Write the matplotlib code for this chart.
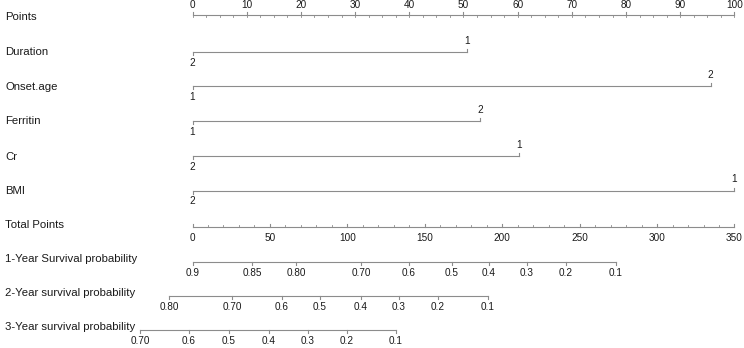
import numpy as np
import matplotlib
matplotlib.use("Agg")
import matplotlib.pyplot as plt

plt.rcParams['font.family'] = ['Liberation Sans', 'DejaVu Sans']

# variable rows: name, label at 0 points, label at max, max points
var_names = ["Duration", "Onset.age", "Ferritin", "Cr", "BMI"]
var_left_labels = ["2", "1", "1", "2", "2"]
var_right_labels = ["1", "2", "2", "1", "1"]
var_max_points = [50.6, 95.6, 53.0, 60.2, 100.0]

points_major = np.arange(0, 101, 10)
points_minor = np.arange(0, 100.1, 2.5)
total_major = np.arange(0, 351, 50)
total_minor = np.arange(0, 351, 10)
total_max = 350

# survival scales: tick labels and their position on the Total Points scale
surv_names = ["1-Year Survival probability", "2-Year survival probability",
              "3-Year survival probability"]
surv1_labels = ["0.9", "0.85", "0.80", "0.70", "0.6", "0.5", "0.4", "0.3", "0.2", "0.1"]
surv1_total = [0.3, 38.4, 66.8, 108.8, 139.8, 167.6, 191.5, 216.0, 241.2, 273.5]
surv2_labels = ["0.80", "0.70", "0.6", "0.5", "0.4", "0.3", "0.2", "0.1"]
surv2_total = [-15.2, 25.5, 57.8, 82.3, 108.8, 133.3, 158.5, 190.8]
surv3_labels = ["0.70", "0.6", "0.5", "0.4", "0.3", "0.2", "0.1"]
surv3_total = [-33.9, -2.3, 23.6, 49.4, 74.6, 99.8, 131.4]

LC = "#8c8c8c"
TC = "#1a1a1a"
lw = 0.8
fs_lab = 8.2
fs_tick = 7.2

fig = plt.figure(figsize=(7.44, 3.48), dpi=100)
ax = fig.add_axes([0, 0, 1, 1])
# x in "points" units, y in pixel rows
px0, px100 = 192.5, 734.5
scale = (px100 - px0) / 100
ax.set_xlim(-px0 / scale, (744 - px0) / scale)
ax.set_ylim(348, 0)
ax.axis("off")

lab_x = 5 / scale - px0 / scale

def tp(v):
    return np.asarray(v) * 100 / total_max

# Points axis
y = 15
ax.text(lab_x, y + 2, "Points", fontsize=fs_lab, color=TC, va="center", ha="left")
ax.plot([0, 100], [y, y], color=LC, lw=lw)
for v in points_major:
    ax.plot([v, v], [y, y - 3], color=LC, lw=lw)
    ax.text(v, y - 10, str(v), fontsize=fs_tick, color=TC, ha="center", va="center")
for v in points_minor:
    ax.plot([v, v], [y, y + 1.5], color=LC, lw=0.6)

# variable rows
row_y = [51.5, 86, 121, 156, 190.5]
for name, ll, rl, mx, y in zip(var_names, var_left_labels, var_right_labels,
                               var_max_points, row_y):
    ax.text(lab_x, y + 0.5, name, fontsize=fs_lab, color=TC, va="center", ha="left")
    ax.plot([0, mx], [y, y], color=LC, lw=lw)
    ax.plot([0, 0], [y, y + 3], color=LC, lw=lw)
    ax.plot([mx, mx], [y, y - 3], color=LC, lw=lw)
    ax.text(0, y + 11, ll, fontsize=fs_tick, color=TC, ha="center", va="center")
    ax.text(mx, y - 11, rl, fontsize=fs_tick, color=TC, ha="center", va="center")

# Total points axis
y = 226.5
ax.text(lab_x, y - 2, "Total Points", fontsize=fs_lab, color=TC, va="center", ha="left")
ax.plot([0, 100], [y, y], color=LC, lw=lw)
for v in total_minor:
    ax.plot([tp(v), tp(v)], [y, y - 1.5], color=LC, lw=0.6)
for v in total_major:
    ax.plot([tp(v), tp(v)], [y, y - 3], color=LC, lw=lw)
    ax.text(tp(v), y + 11.5, str(v), fontsize=fs_tick, color=TC, ha="center", va="center")

# survival axes
surv_y = [261.5, 295.5, 329.5]
for name, labels, pos, y in zip(surv_names, [surv1_labels, surv2_labels, surv3_labels],
                                [surv1_total, surv2_total, surv3_total], surv_y):
    ax.text(lab_x, y - 2, name, fontsize=fs_lab, color=TC, va="center", ha="left")
    xs = tp(pos)
    ax.plot([xs.min(), xs.max()], [y, y], color=LC, lw=lw)
    for x, l in zip(xs, labels):
        ax.plot([x, x], [y, y + 3], color=LC, lw=lw)
        ax.text(x, y + 11, l, fontsize=fs_tick, color=TC, ha="center", va="center")

fig.savefig("out.png", dpi=100)
